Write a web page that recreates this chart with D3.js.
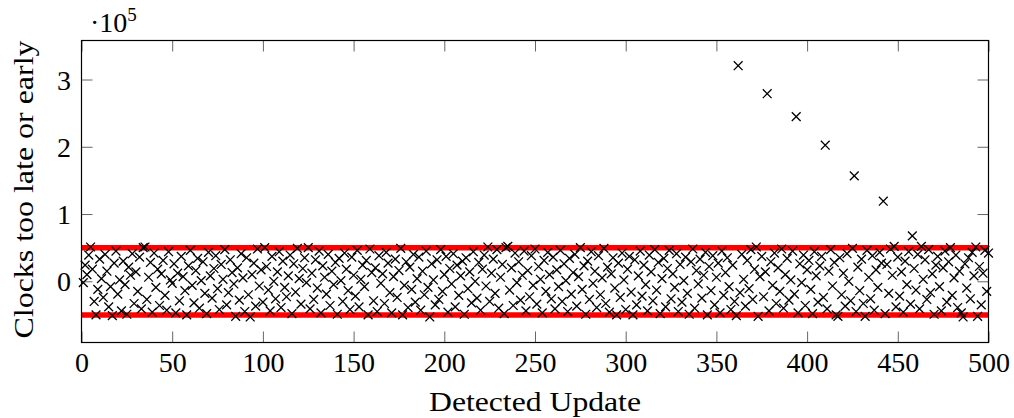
<!DOCTYPE html>
<html>
<head>
<meta charset="utf-8">
<script src="https://cdn.jsdelivr.net/npm/d3@7"></script>
<style>
  html, body { margin: 0; padding: 0; background: #fff; }
  svg { display: block; }
  .lbl { font-family: "Liberation Serif", "DejaVu Serif", serif; fill: #000; }
</style>
</head>
<body>
<svg id="chart" width="1014" height="418"></svg>
<script>
// ---- data (clock offsets in thousands of clocks, one per detected update 1..500) ----
const offsetUnit = 1000;
const clocksTooLateOrEarlyK = [
  -2, 24, 10, 39, 51, 18, -30, -50, -12, 33, 4, -24, 40, 15, -38, -8, -51, 27, 45, -19, 2, -44, 30, -5, -49,
  21, 9, 41, -33, 14, -15, 36, -41, 50, 51, -27, 6, 28, -46, 42, -9, 18, -36, 11, 31, -21, -43, 44, 2, -3,
  26, -47, 12, -29, 37, 7, -14, -50, 23, 46, -6, -32, 16, 34, -40, 1, 29, -18, -48, 43, 8, -25, 19, 38, -11,
  -42, 25, 3, 47, -35, -17, 32, 13, -4, -52, 20, -28, 41, 5, -45, 35, -20, -53, 10, 27, -37, 48, -7, 17, -31,
  50, 22, -13, -44, 37, 0, -26, 14, 44, -39, 30, -9, -23, 8, 39, -48, 26, -16, 49, 4, -34, 19, 35, -2, 50,
  -41, 12, -27, 32, -10, 45, -47, 23, 6, -19, 40, -36, 15, -5, 28, -49, 34, 1, -30, 42, 18, -14, -42, 36, 9,
  -22, 46, -38, 3, 24, -8, 31, -50, 48, 13, -29, 20, -45, 38, -3, 11, -33, 43, 27, -17, -47, 7, 33, -24, 16,
  49, -50, -6, 29, -39, 21, -12, 40, -31, 4, 36, -43, 15, -20, 45, -9, -53, 26, 2, -35, 32, -27, 47, -15, 10,
  37, -46, 19, -4, 41, -38, 24, -21, 8, 30, -49, 35, -11, 14, -32, 44, 0, -25, 28, -43, 18, 39, -7, 51, -30,
  12, 33, -18, 47, -40, 6, 25, -48, 50, 52, -13, 20, -36, 42, -2, 29, -28, 9, 45, -44, 16, -23, 38, -6, 48,
  -34, 22, 3, -47, 31, -15, 43, 10, -26, 36, -41, 17, -8, 46, -30, 26, 1, -45, 34, -19, 13, 40, -37, 7, 50,
  -12, 23, -49, 30, -27, 44, -3, 15, -39, 38, -20, 5, 49, -33, 21, -46, 11, 35, -10, -50, 27, -24, 42, 2, -42,
  18, 37, -16, -50, 32, -35, 8, 45, -22, 24, -5, -44, 39, 14, -29, 47, -13, 28, -48, 4, 34, -38, 19, 46, -26,
  11, -9, 41, -45, 25, -31, 1, 36, -18, -49, 29, 48, -40, 16, -4, 33, -25, 9, 43, -50, 22, -14, 38, -35, 6,
  27, -47, 45, -21, 13, 35, -8, -42, 24, -30, -51, 320.5, -17, 40, 3, -37, 31, -11, 47, -27, 18, 51, -52, 7, 37,
  -23, 14, 278.9, -44, 29, -6, 42, -33, 20, -15, 48, -40, 10, 34, -28, 2, 45, -19, 244.8, -47, 26, -2, 39, -36, 17,
  31, -12, -48, 44, 8, -31, 23, 37, -24, 202.3, -41, 15, 47, -7, 28, -50, -52, 35, -20, 12, -37, 41, 0, -29, 49,
  156.7, -45, 21, -14, 33, -33, -52, 46, 6, -26, 38, -43, 17, -9, 43, 27, 119.1, -48, 25, -18, 48, 9, 52, -38, 36,
  -22, 14, -46, 30, -5, 44, -34, 67.6, 19, -13, 40, -41, 52, 3, 32, -27, 47, -17, 11, -49, 24, 37, -8, -44, 20,
  45, -31, 29, 50, -21, 5, 39, -39, 15, -47, -53, 26, -10, 35, -26, 43, 8, 51, -52, 22, -35, 12, 46, -15, 42
];
const thresholds = [50000, -50000];
const xTicks = [0, 50, 100, 150, 200, 250, 300, 350, 400, 450, 500];
const yTicks = [0, 100000, 200000, 300000];
const yTickLabels = ["0", "1", "2", "3"];
const xLabel = "Detected Update";
const yLabel = "Clocks too late or early";

// ---- layout ----
const L = 81.5, R = 988.5, T = 40.5, B = 342.5;
const svg = d3.select("#chart");
const x = d3.scaleLinear().domain([0, 500]).range([L, R]);
const y = d3.scaleLinear().domain([-91000, 358000]).range([B, T]);

const points = clocksTooLateOrEarlyK.map((v, i) => ({ update: i + 1, value: v * offsetUnit }));

// threshold lines
svg.append("g").selectAll("line").data(thresholds).join("line")
  .attr("x1", L).attr("x2", R)
  .attr("y1", d => y(d)).attr("y2", d => y(d))
  .attr("stroke", "#ff0000").attr("stroke-width", 5.5);

// ticks (inward on all four sides)
const tickLen = 11;
const tickStyle = g => g.selectAll("line").attr("stroke", "#666").attr("stroke-width", 1);
const gxb = svg.append("g").attr("transform", `translate(0,${B})`)
  .call(d3.axisBottom(x).tickValues(xTicks).tickSizeInner(-tickLen).tickSizeOuter(0).tickFormat(d => d));
const gxt = svg.append("g").attr("transform", `translate(0,${T})`)
  .call(d3.axisTop(x).tickValues(xTicks).tickSizeInner(-tickLen).tickSizeOuter(0).tickFormat(""));
const gyl = svg.append("g").attr("transform", `translate(${L},0)`)
  .call(d3.axisLeft(y).tickValues(yTicks).tickSizeInner(-tickLen).tickSizeOuter(0)
    .tickFormat((d, i) => yTickLabels[i]));
const gyr = svg.append("g").attr("transform", `translate(${R},0)`)
  .call(d3.axisRight(y).tickValues(yTicks).tickSizeInner(-tickLen).tickSizeOuter(0).tickFormat(""));
[gxb, gxt, gyl, gyr].forEach(g => { g.select(".domain").remove(); tickStyle(g); });

gxb.selectAll("text").attr("class", "lbl").attr("font-size", 28)
  .attr("y", 371.5 - B).attr("dy", null).attr("text-anchor", "middle");
gyl.selectAll("text").attr("class", "lbl").attr("font-size", 28)
  .attr("x", 71 - L).attr("dy", "0.34em").attr("text-anchor", "end");
[gxb, gxt, gyl, gyr].forEach(g => g.attr("font-family", null).attr("font-size", null));

// markers
const s = 4.4;
svg.append("g").selectAll("path").data(points).join("path")
  .attr("transform", d => `translate(${x(d.update)},${y(d.value)})`)
  .attr("d", `M${-s},${-s}L${s},${s}M${-s},${s}L${s},${-s}`)
  .attr("stroke", "#000").attr("stroke-width", 1.3).attr("fill", "none");

// frame
svg.append("rect").attr("x", L).attr("y", T).attr("width", R - L).attr("height", B - T)
  .attr("fill", "none").attr("stroke", "#000").attr("stroke-width", 1.2);

// axis labels
svg.append("text").attr("class", "lbl").attr("font-size", 28)
  .attr("x", (L + R) / 2).attr("y", 411).attr("text-anchor", "middle")
  .attr("textLength", 212).attr("lengthAdjust", "spacingAndGlyphs")
  .text(xLabel);
svg.append("text").attr("class", "lbl").attr("font-size", 28)
  .attr("transform", `translate(33,${(T + B) / 2 - 2}) rotate(-90)`).attr("text-anchor", "middle")
  .attr("textLength", 298).attr("lengthAdjust", "spacingAndGlyphs")
  .text(yLabel);

// multiplier
const mult = svg.append("text").attr("class", "lbl").attr("font-size", 28).attr("x", 90).attr("y", 31.5);
mult.append("tspan").text("·10");
mult.append("tspan").attr("font-size", 19).attr("dy", -11).text("5");
</script>
</body>
</html>
